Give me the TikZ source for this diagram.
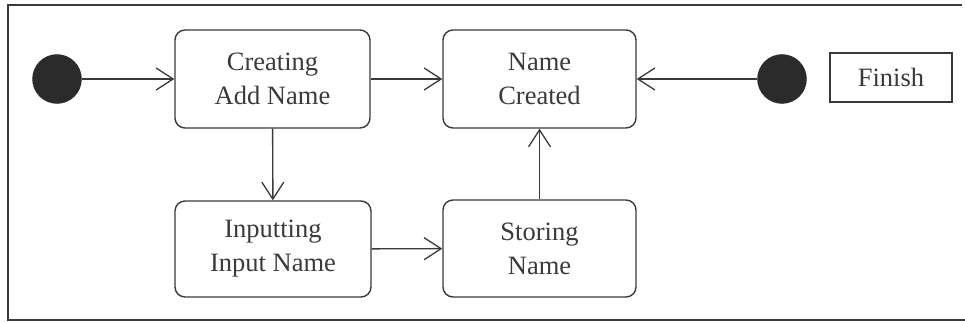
\documentclass[tikz,border=0pt]{standalone}
\usepackage{fontspec}
\setmainfont{Liberation Serif}
\usetikzlibrary{arrows.meta}
\definecolor{ink}{HTML}{3A3A3A}
\definecolor{dot}{HTML}{2B2B2B}
\begin{document}
\begin{tikzpicture}[x=1pt,y=-1pt,
  state/.style={draw=ink,line width=1.4pt,rounded corners=10pt,inner sep=0pt,
    align=center,font=\fontsize{26.5}{34}\selectfont,text=ink},
  pseudo/.style={circle,fill=dot,draw=dot,inner sep=0pt,minimum size=49pt},
  label/.style={draw=ink,line width=1.3pt,inner sep=0pt,font=\fontsize{26.5}{34}\selectfont,text=ink},
  flow/.style={draw=ink,line width=1.4pt,-{Straight Barb[length=17pt,width=22pt,line width=1.3pt]}}]
  \useasboundingbox (0,0) rectangle (965,323);
  % outer frame (open on the right)
  \draw[ink,line width=1.5pt] (962,5) -- (8,5) -- (8,320) -- (965,320);

  % states
  \node[state,minimum width=195pt,minimum height=98pt] (create) at (272.5,79) {Creating\\Add Name};
  \node[state,minimum width=193pt,minimum height=98pt] (done) at (539.5,79) {Name\\Created};
  \node[state,minimum width=196pt,minimum height=96pt] (input) at (273,249) {Inputting\\Input Name};
  \node[state,minimum width=193pt,minimum height=97pt] (store) at (539.5,248.5) {Storing\\Name};

  % pseudo-states
  \node[pseudo] (start) at (57,79) {};
  \node[pseudo] (final) at (782,79) {};
  \node[label,minimum width=122pt,minimum height=49pt] (fin) at (891,77.5) {Finish};

  % transitions
  \draw[flow] (start) -- (create);
  \draw[flow] (create) -- (done);
  \draw[flow] (final) -- (done);
  \draw[flow] (create) -- (input);
  \draw[flow] (input) -- (store);
  \draw[flow] (store) -- (done);
\end{tikzpicture}
\end{document}
